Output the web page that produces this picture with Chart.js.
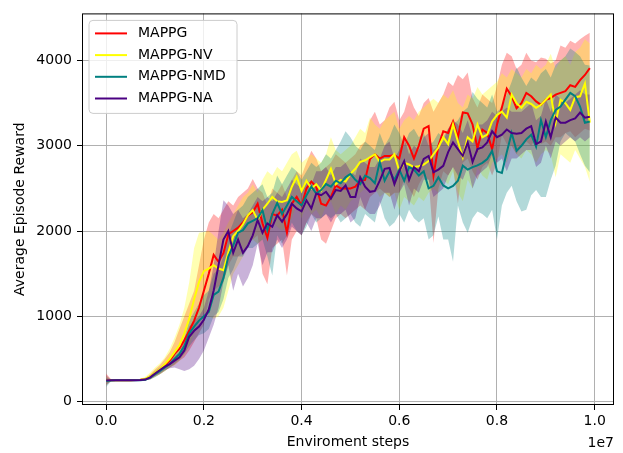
<!DOCTYPE html>
<html>
<head>
<meta charset="utf-8">
<script src="https://cdn.jsdelivr.net/npm/chart.js@4.4.1/dist/chart.umd.min.js"></script>
<style>
  body { margin: 0; background: #fff; }
  canvas { display: block; }
</style>
</head>
<body>
<canvas id="chart" width="623" height="453"></canvas>
<script>
// values, one sample every 1e5 steps
const labels = ["MAPPG", "MAPPG-NV", "MAPPG-NMD", "MAPPG-NA"];
const colors = ["#ff0000", "#ffff00", "#008080", "#4b0082"];
const xTicks = [0, 2e6, 4e6, 6e6, 8e6, 1e7];
const yTicks = [0, 1000, 2000, 3000, 4000];

const redMean = [250, 250, 252, 250, 251, 250, 252, 255, 262, 290,
  330, 370, 430, 480, 560, 620, 720, 830, 950, 1100,
  1300, 1500, 1720, 1640, 1740, 1960, 2000, 2040, 2100, 2180,
  2220, 2320, 2090, 1920, 2200, 2180, 2250, 1980, 2320, 2400,
  2300, 2500, 2580, 2520, 2320, 2300, 2400, 2535, 2500, 2500,
  2500, 2520, 2590, 2600, 2845, 2900, 2850, 2880, 2880, 2890,
  2850, 3100, 3000, 2850, 3000, 3200, 3230, 2650, 3000, 3170,
  3150, 3285, 3100, 3390, 3380, 3250, 2970, 3190, 3150, 2960,
  3250, 3450, 3670, 3580, 3440, 3500, 3620, 3580, 3520, 3480,
  3540, 3560, 3600, 3620, 3640, 3710, 3690, 3770, 3830, 3910];
const redHi = [330, 262, 258, 256, 256, 256, 258, 262, 275, 320,
  380, 430, 500, 580, 700, 850, 1000, 1150, 1300, 1600,
  1900, 2100, 2200, 2150, 2250, 2350, 2300, 2400, 2450, 2500,
  2610, 2500, 2450, 2300, 2500, 2450, 2550, 2400, 2600, 2700,
  2650, 2800, 2940, 2850, 2700, 2750, 2800, 2900, 2850, 2800,
  2850, 2900, 3000, 3050, 3300, 3400, 3250, 3300, 3450, 3515,
  3300, 3400, 3600, 3450, 3350, 3500, 3560, 3400, 3500, 3600,
  3750, 3700, 3830, 3780, 3860, 3560, 3450, 3600, 3550, 3500,
  3700, 3950, 4090, 4050, 3900, 3950, 4090, 4000, 3980, 4035,
  4020, 3965, 4000, 4175, 4150, 4230, 4200, 4250, 4290, 4325];
const redLo = [190, 240, 245, 245, 246, 245, 246, 248, 250, 260,
  290, 320, 360, 400, 430, 480, 520, 600, 700, 800,
  900, 1200, 1300, 1350, 1400, 1600, 1700, 1700, 1750, 1850,
  1900, 1950, 1500, 1375, 1800, 1850, 1900, 1480, 1900, 2000,
  1950, 2100, 2200, 2150, 1900, 1850, 2000, 2150, 2200, 2150,
  2200, 2250, 2300, 2250, 2400, 2450, 2500, 2450, 2400, 2450,
  2450, 2600, 2500, 2400, 2550, 2650, 2600, 1860, 2500, 2700,
  2650, 2750, 2320, 2800, 2850, 2700, 2600, 2750, 2800, 2650,
  2800, 3130, 3020, 3000, 2900, 3000, 3050, 3000, 3100, 3020,
  3050, 3000, 3100, 3100, 3150, 3170, 3100, 3150, 3200, 3180];

const yellowMean = [250, 250, 250, 251, 250, 250, 252, 256, 265, 295,
  340, 380, 440, 500, 580, 660, 800, 970, 1200, 1400,
  1530, 1560, 1600, 1560, 1540, 1750, 1940, 2000, 2080, 2185,
  2245, 2130, 2250, 2320, 2400, 2350, 2340, 2360, 2520, 2635,
  2470, 2590, 2500, 2550, 2475, 2600, 2730, 2550, 2600, 2580,
  2670, 2730, 2810, 2830, 2865, 2900, 2810, 2840, 2840, 2900,
  2700, 2800, 2780, 2750, 2760, 2780, 2820, 2900, 2980, 3100,
  3020, 3250, 3050, 2865, 3100, 3050, 3250, 3100, 3130, 3285,
  3360, 3400, 3330, 3600, 3500, 3445, 3515, 3490, 3445, 3480,
  3540, 3600, 3270, 3540, 3500, 3420, 3570, 3580, 3730, 3270];
const yellowHi = [300, 258, 256, 256, 256, 257, 260, 268, 290, 340,
  400, 450, 520, 620, 750, 900, 1100, 1400, 1800, 1980,
  1990, 2000, 1950, 1900, 1980, 2100, 2200, 2300, 2400, 2450,
  2550, 2450, 2600, 2700, 2650, 2750, 2700, 2800, 2900, 2940,
  2800, 2850, 2900, 2850, 2800, 2900, 3100, 2950, 2900, 2950,
  3000, 3100, 3200, 3150, 3330, 3250, 3200, 3300, 3350, 3400,
  3200, 3300, 3350, 3300, 3400, 3450, 3500, 3550, 3500, 3600,
  3550, 3650, 3500, 3450, 3600, 3550, 3690, 3600, 3650, 3700,
  3750, 3850, 3800, 3900, 3850, 3800, 3900, 3850, 3950, 3900,
  3950, 4080, 3900, 4000, 4050, 3950, 4100, 4150, 4250, 4200];
const yellowLo = [200, 242, 244, 245, 244, 245, 246, 248, 250, 262,
  290, 320, 360, 400, 430, 480, 550, 650, 800, 950,
  1050, 1000, 970, 1000, 1100, 1300, 1500, 1600, 1700, 1850,
  1900, 1850, 1900, 2000, 2100, 2050, 2000, 2050, 2150, 2300,
  2150, 2300, 2200, 2250, 2150, 2300, 2350, 2200, 2300, 2250,
  2350, 2400, 2450, 2500, 2450, 2500, 2400, 2450, 2400, 2450,
  2250, 2400, 2350, 2300, 2400, 2350, 2450, 2500, 2450, 2600,
  2550, 2700, 2450, 2350, 2600, 2500, 2750, 2650, 2600, 2800,
  2850, 2900, 2800, 3000, 2900, 2850, 2950, 2900, 2800, 2900,
  2950, 2900, 2630, 2900, 2850, 2800, 2950, 2850, 2750, 2580];

const tealMean = [240, 248, 250, 250, 250, 249, 250, 250, 255, 280,
  320, 360, 400, 440, 500, 560, 650, 800, 880, 950,
  1000, 1050, 1250, 1290, 1450, 1700, 1830, 1980, 2010, 2090,
  2120, 2150, 2245, 2010, 2200, 2330, 2200, 2300, 2400, 2350,
  2300, 2420, 2520, 2440, 2480, 2550, 2520, 2590, 2560, 2630,
  2670, 2600, 2550, 2650, 2620, 2560, 2810, 2590, 2700, 2600,
  2720, 2590, 2750, 2720, 2650, 2700, 2500, 2530, 2630, 2535,
  2500, 2530, 2590, 2765, 2720, 2750, 2770, 2800, 2845, 2940,
  2700, 2680, 2925, 3150, 2940, 3000, 3075, 3130, 2990, 3300,
  3100, 3300, 3420, 3460, 3540, 3620, 3580, 3460, 3270, 3285];
const tealHi = [280, 256, 255, 255, 255, 254, 256, 258, 265, 300,
  350, 400, 440, 490, 560, 640, 750, 950, 1050, 1150,
  1250, 1300, 1500, 1550, 1700, 1950, 2100, 2250, 2300, 2400,
  2450, 2500, 2550, 2400, 2450, 2650, 2550, 2650, 2750, 2700,
  2600, 2700, 2800, 2750, 2800, 2900, 2850, 2950, 3050, 3170,
  3100, 3000, 2950, 3050, 3000, 2950, 3150, 3000, 3100, 3250,
  3150, 3000, 3150, 3200, 3100, 3150, 3000, 3050, 3150, 3100,
  3200, 3250, 3300, 3400, 3450, 3630, 3550, 3500, 3450, 3600,
  3400, 3450, 3600, 3750, 3920, 3800, 3700, 3800, 3750, 3850,
  3900, 3800, 3950, 4000, 4050, 4140, 4100, 4050, 3950, 3940];
const tealLo = [170, 238, 242, 243, 242, 242, 243, 244, 246, 258,
  285, 320, 360, 400, 440, 490, 560, 650, 720, 780,
  800, 850, 1000, 1050, 1200, 1450, 1550, 1700, 1700, 1800,
  1800, 1850, 1900, 1700, 1480, 1950, 1850, 1950, 2100, 2000,
  1950, 2050, 2200, 2100, 2150, 2200, 2150, 2200, 2100, 2150,
  2200, 2100, 2050, 2200, 2150, 2100, 2350, 2150, 2050, 2100,
  2200, 2100, 2250, 2150, 2100, 2150, 1900, 1950, 2170, 1900,
  1900, 1640, 2300, 2100, 1980, 2150, 2230, 2200, 2150, 2250,
  1900, 2300, 2450, 2530, 2350, 2230, 2250, 2420, 2480, 2400,
  2400, 2600, 2765, 3050, 3150, 3100, 3050, 2900, 2765, 2690];

const purpleMean = [250, 250, 250, 250, 250, 250, 250, 252, 258, 285,
  330, 370, 410, 440, 480, 520, 600, 760, 830, 880,
  960, 1080, 1300, 1600, 1900, 2000, 1745, 1900, 1745, 1825,
  1950, 2130, 1980, 2090, 2050, 2185, 2110, 2200, 2320, 2265,
  2230, 2360, 2265, 2440, 2420, 2460, 2380, 2480, 2470, 2535,
  2400, 2400, 2630, 2520, 2460, 2470, 2590, 2730, 2740, 2550,
  2700, 2820, 2600, 2750, 2700, 2845, 2880, 2690, 2720, 2765,
  2925, 3040, 2960, 2880, 3040, 2810, 2960, 2980, 3040, 3170,
  3100, 3130, 3190, 3150, 3140, 3150, 3200, 3230, 3020, 3050,
  3285, 3100, 3330, 3270, 3270, 3300, 3320, 3390, 3330, 3340];
const purpleHi = [310, 256, 255, 255, 255, 255, 256, 260, 270, 310,
  360, 400, 440, 480, 530, 580, 700, 880, 950, 1000,
  1100, 1300, 1600, 2000, 2360, 2300, 2200, 2250, 2150, 2200,
  2300, 2400, 2350, 2400, 2350, 2450, 2400, 2500, 2600, 2550,
  2500, 2600, 2550, 2700, 2700, 2750, 2650, 2750, 2750, 2800,
  2700, 2650, 2850, 2800, 2750, 2750, 2850, 3000, 3050, 2850,
  2950, 3100, 2900, 3000, 2950, 3100, 3150, 2950, 3000, 3050,
  3200, 3300, 3250, 3150, 3300, 3100, 3250, 3250, 3300, 3400,
  3350, 3400, 3450, 3400, 3400, 3400, 3450, 3500, 3300, 3350,
  3550, 3400, 3600, 3550, 3500, 3550, 3600, 3650, 3600, 3600];
const purpleLo = [200, 244, 245, 245, 245, 245, 245, 246, 248, 262,
  300, 330, 370, 390, 400, 380, 360, 380, 420, 500,
  600, 750, 900, 1100, 1400, 1600, 1300, 1500, 1350, 1450,
  1600, 1850, 1600, 1750, 1750, 1900, 1800, 1900, 2050, 2000,
  1950, 2100, 2000, 2150, 2150, 2200, 2100, 2200, 2200, 2250,
  2100, 2150, 2400, 2250, 2200, 2200, 2300, 2450, 2450, 2250,
  2450, 2550, 2300, 2500, 2450, 2600, 2600, 2400, 2450, 2500,
  2650, 2750, 2650, 2600, 2750, 2500, 2650, 2700, 2750, 2900,
  2800, 2850, 2700, 2850, 2850, 2900, 2950, 2950, 2750, 2800,
  3000, 2850, 3050, 3000, 3050, 3100, 3050, 3100, 3050, 3100];

const STEP = 1e5;
const steps = redMean.map((_, i) => i * STEP);

const series = [
  { mean: redMean, hi: redHi, lo: redLo },
  { mean: yellowMean, hi: yellowHi, lo: yellowLo },
  { mean: tealMean, hi: tealHi, lo: tealLo },
  { mean: purpleMean, hi: purpleHi, lo: purpleLo },
];

const FONT = "DejaVu Sans";
const toXY = (arr) => arr.map((v, i) => ({ x: steps[i], y: v }));
const fade = (hex, a) => {
  const n = parseInt(hex.slice(1), 16);
  return `rgba(${n >> 16},${(n >> 8) & 255},${n & 255},${a})`;
};

const datasets = [];
// bands first (drawn under the lines), red band at the bottom
series.forEach((s, k) => {
  const idx = datasets.length;
  datasets.push({
    data: toXY(s.hi),
    borderWidth: 0,
    pointRadius: 0,
    backgroundColor: fade(colors[k], 0.3),
    fill: { target: idx + 1 },
    order: 20 - k * 2,
    isBand: true,
  });
  datasets.push({
    data: toXY(s.lo),
    borderWidth: 0,
    pointRadius: 0,
    fill: false,
    order: 19 - k * 2,
    isBand: true,
  });
});
series.forEach((s, k) => {
  datasets.push({
    label: labels[k],
    data: toXY(s.mean),
    borderColor: colors[k],
    borderWidth: 2,
    pointRadius: 0,
    fill: false,
    tension: 0,
    order: 3 - k,
  });
});

const frame = {
  id: "frame",
  afterDraw(chart) {
    const { ctx, chartArea: a } = chart;
    ctx.save();
    ctx.strokeStyle = "#000";
    ctx.lineWidth = 1;
    ctx.strokeRect(a.left + 0.5, a.top + 0.5, a.right - a.left - 1, a.bottom - a.top - 1);

    ctx.fillStyle = "#000";
    ctx.font = `14px "${FONT}"`;
    ctx.textBaseline = "middle";
    ctx.textAlign = "center";
    ctx.fillText("Enviroment steps", (a.left + a.right) / 2, 442);
    ctx.textAlign = "right";
    ctx.fillText("1e7", a.right, 443);
    ctx.save();
    ctx.translate(20, (a.top + a.bottom) / 2);
    ctx.rotate(-Math.PI / 2);
    ctx.textAlign = "center";
    ctx.fillText("Average Episode Reward", 0, 0);
    ctx.restore();

    // legend box, upper left
    const bx = a.left + 7, by = a.top + 7, bw = 148, bh = 93, r = 4;
    ctx.beginPath();
    ctx.moveTo(bx + r, by);
    ctx.arcTo(bx + bw, by, bx + bw, by + bh, r);
    ctx.arcTo(bx + bw, by + bh, bx, by + bh, r);
    ctx.arcTo(bx, by + bh, bx, by, r);
    ctx.arcTo(bx, by, bx + bw, by, r);
    ctx.closePath();
    ctx.fillStyle = "rgba(255,255,255,0.8)";
    ctx.fill();
    ctx.strokeStyle = "#cccccc";
    ctx.stroke();

    const lines = chart.data.datasets.filter((d) => !d.isBand);
    lines.forEach((d, i) => {
      const y = by + 13 + i * 21.7;
      ctx.strokeStyle = d.borderColor;
      ctx.lineWidth = 2;
      ctx.beginPath();
      ctx.moveTo(bx + 6, y);
      ctx.lineTo(bx + 38, y);
      ctx.stroke();
      ctx.fillStyle = "#000";
      ctx.textAlign = "left";
      ctx.fillText(d.label, bx + 49, y);
    });
    ctx.restore();
  },
};

const tickFont = { family: FONT, size: 14 };

new Chart(document.getElementById("chart"), {
  type: "line",
  data: { datasets },
  options: {
    responsive: false,
    animation: false,
    devicePixelRatio: 1,
    layout: { padding: { top: 7, right: 9, left: 0, bottom: 0 } },
    plugins: {
      legend: { display: false },
      tooltip: { enabled: false },
    },
    scales: {
      x: {
        type: "linear",
        min: -495000,
        max: 10395000,
        afterBuildTicks: (scale) => {
          scale.ticks = xTicks.map((v) => ({ value: v }));
        },
        afterFit: (scale) => {
          scale.height = 48;
        },
        ticks: {
          color: "#000",
          font: tickFont,
          padding: 3,
          maxRotation: 0,
          callback: (v) => (v / 1e7).toFixed(1),
        },
        grid: { color: "#b0b0b0", lineWidth: 1, tickColor: "#000", tickLength: 5 },
        border: { display: false },
      },
      y: {
        min: -40,
        max: 4552,
        afterBuildTicks: (scale) => {
          scale.ticks = yTicks.map((v) => ({ value: v }));
        },
        afterFit: (scale) => {
          scale.width = 82;
        },
        ticks: { color: "#000", font: tickFont, padding: 5, callback: (v) => String(v) },
        grid: { color: "#b0b0b0", lineWidth: 1, tickColor: "#000", tickLength: 5 },
        border: { display: false },
      },
    },
  },
  plugins: [frame],
});
</script>
</body>
</html>
